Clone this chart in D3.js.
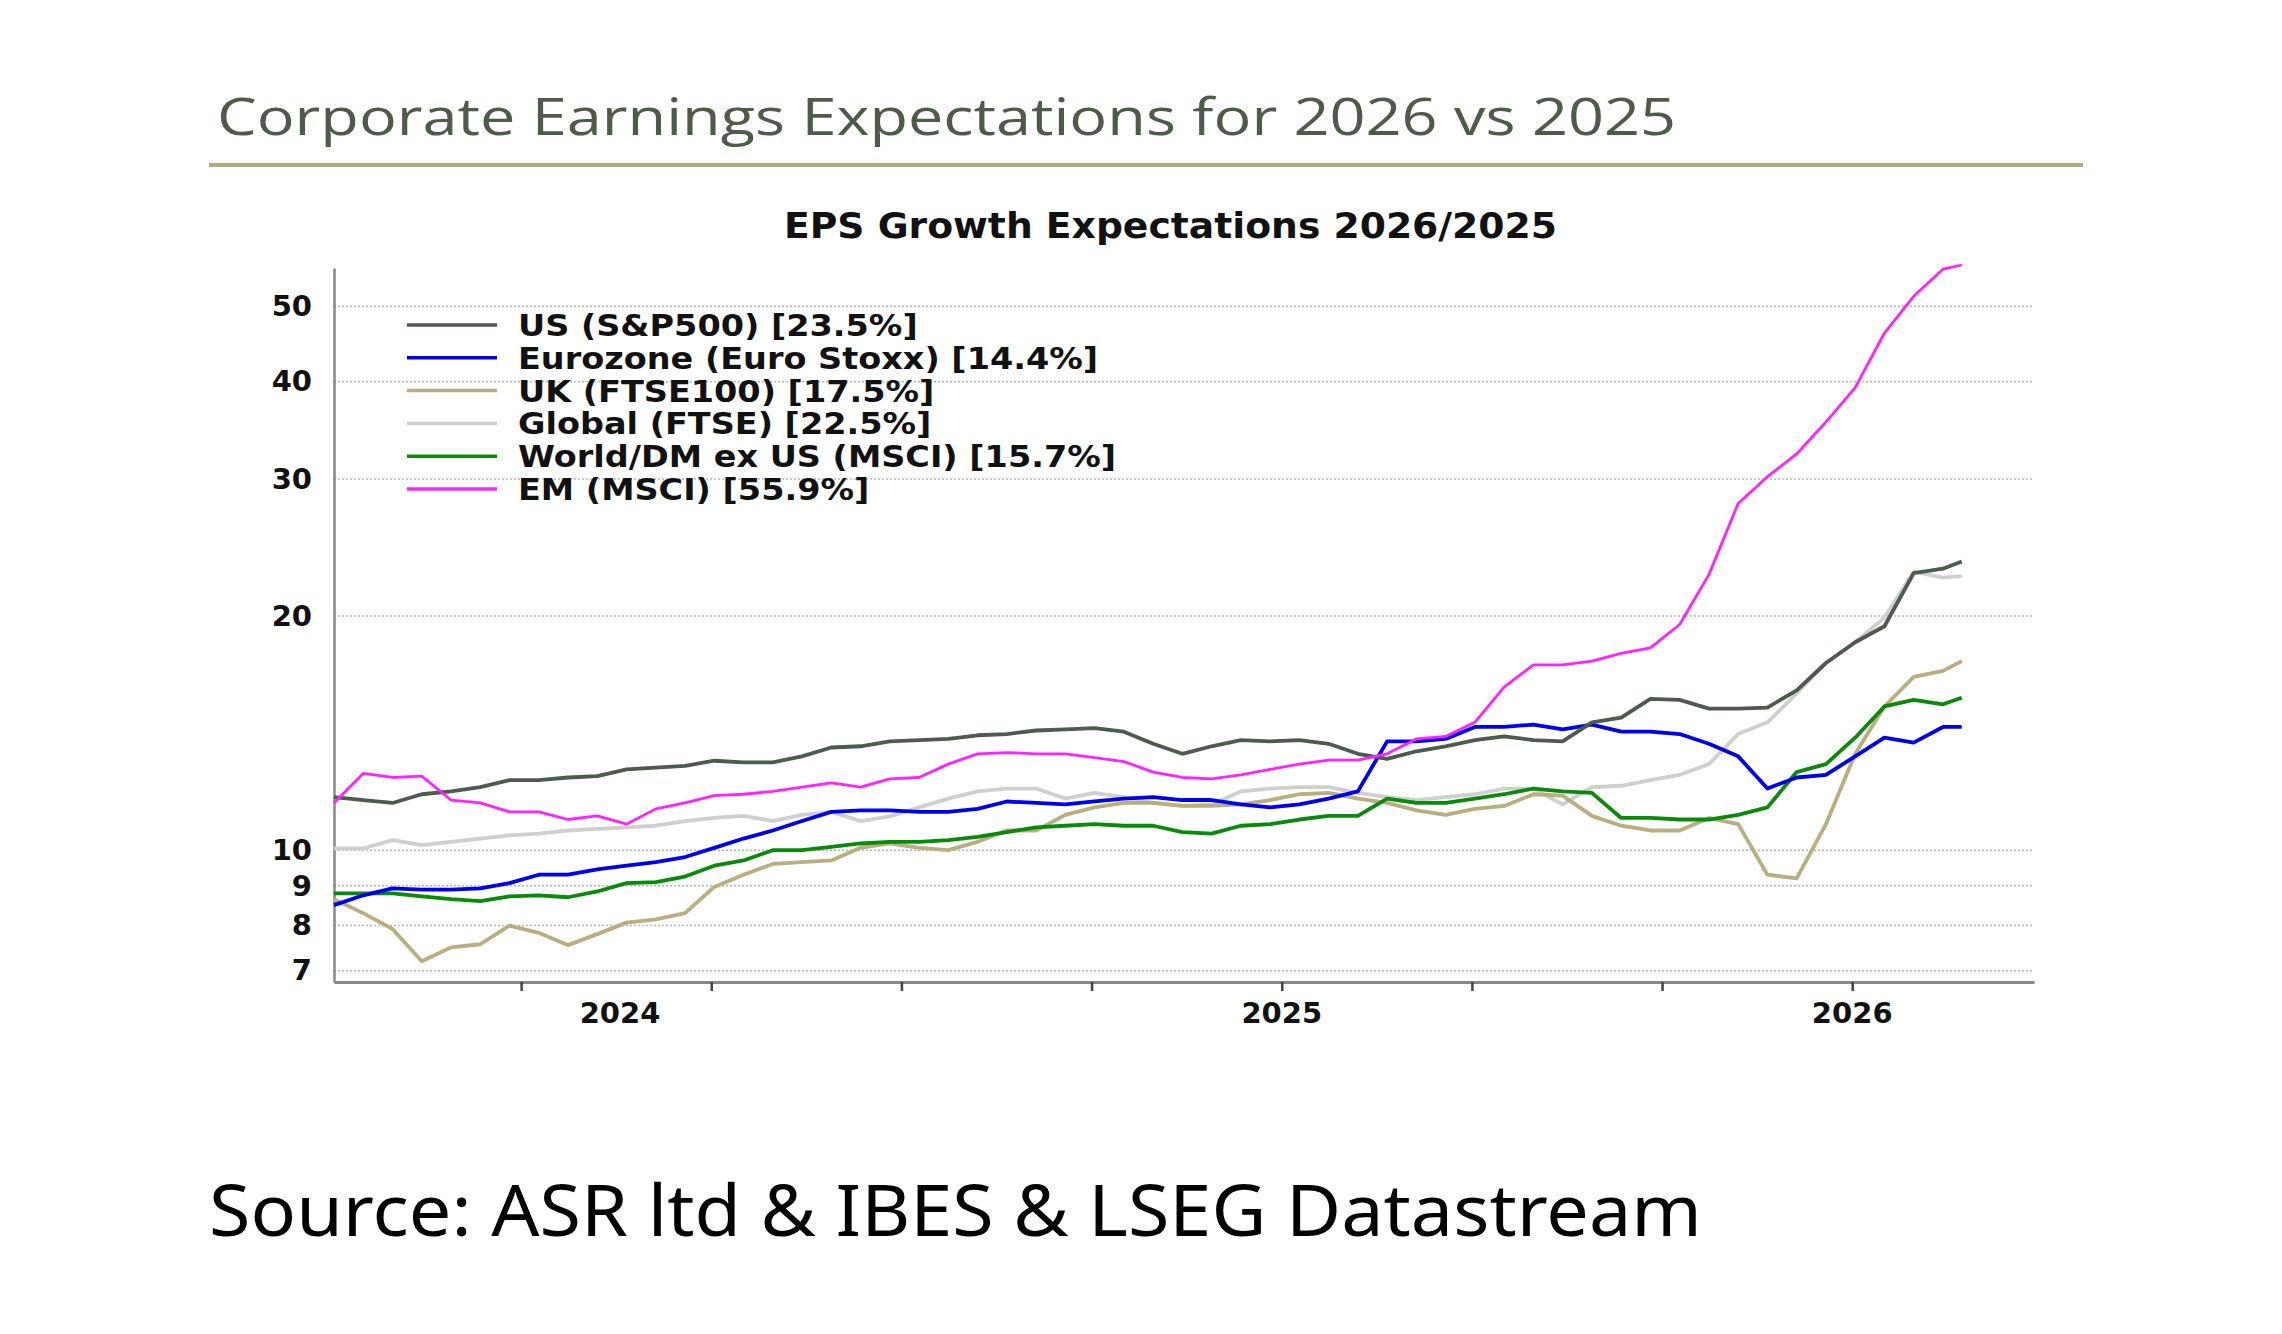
<!DOCTYPE html>
<html><head><meta charset="utf-8">
<script src="https://cdn.jsdelivr.net/npm/d3@7/dist/d3.min.js"></script>
<style>body{margin:0;background:#fff}svg{display:block}</style>
</head><body><svg id="c" width="2282" height="1334"></svg>
<script>
const dates = d3.range(57).map(i => i < 56 ? 2023.754 + i * 0.03846 : 2025.894);
const seriesNames = ["US (S&P500) [23.5%]","Eurozone (Euro Stoxx) [14.4%]","UK (FTSE100) [17.5%]","Global (FTSE) [22.5%]","World/DM ex US (MSCI) [15.7%]","EM (MSCI) [55.9%]"];
const us = [11.7,11.6,11.5,11.8,11.9,12.05,12.3,12.3,12.4,12.45,12.7,12.77,12.83,13.03,12.97,12.97,13.2,13.55,13.6,13.8,13.85,13.9,14.05,14.1,14.25,14.3,14.35,14.2,13.7,13.3,13.6,13.85,13.8,13.85,13.7,13.3,13.1,13.4,13.6,13.85,14.0,13.85,13.8,14.6,14.8,15.65,15.6,15.2,15.2,15.25,16.05,17.4,18.5,19.4,22.7,23.0,23.5];
const eurozone = [8.5,8.75,8.93,8.9,8.9,8.93,9.07,9.3,9.3,9.45,9.55,9.65,9.8,10.07,10.35,10.6,10.9,11.2,11.25,11.25,11.2,11.2,11.3,11.55,11.5,11.45,11.55,11.65,11.7,11.6,11.6,11.45,11.35,11.45,11.65,11.9,13.8,13.8,13.9,14.4,14.4,14.5,14.3,14.5,14.2,14.2,14.1,13.7,13.2,12.0,12.4,12.5,13.2,13.95,13.75,14.4,14.4];
const uk = [8.65,8.3,7.92,7.2,7.5,7.57,8.0,7.83,7.55,7.8,8.07,8.15,8.3,8.97,9.3,9.6,9.65,9.7,10.07,10.2,10.07,10.0,10.25,10.6,10.6,11.1,11.35,11.5,11.5,11.4,11.4,11.45,11.6,11.8,11.85,11.65,11.5,11.25,11.1,11.3,11.4,11.8,11.75,11.07,10.75,10.6,10.6,11.0,10.8,9.3,9.2,10.8,13.3,15.3,16.7,17.0,17.5];
const global = [10.05,10.05,10.3,10.15,10.25,10.35,10.45,10.5,10.6,10.65,10.7,10.75,10.9,11.0,11.07,10.9,11.1,11.2,10.9,11.05,11.35,11.65,11.9,12.0,12.0,11.65,11.85,11.7,11.5,11.4,11.45,11.9,12.0,12.05,12.05,11.85,11.7,11.6,11.7,11.8,12.0,12.0,11.45,12.05,12.1,12.3,12.5,12.9,14.1,14.6,15.9,17.4,18.5,19.9,22.8,22.4,22.5];
const world = [8.8,8.8,8.8,8.72,8.65,8.6,8.72,8.75,8.7,8.85,9.07,9.1,9.25,9.55,9.7,10.0,10.0,10.1,10.2,10.25,10.25,10.3,10.4,10.55,10.7,10.75,10.8,10.75,10.75,10.55,10.5,10.75,10.8,10.95,11.07,11.07,11.65,11.5,11.5,11.65,11.8,12.0,11.9,11.85,11.0,11.0,10.95,10.95,11.1,11.35,12.6,12.9,13.95,15.3,15.6,15.4,15.7];
const em = [11.5,12.55,12.4,12.45,11.6,11.5,11.2,11.2,10.95,11.07,10.8,11.3,11.5,11.75,11.8,11.9,12.05,12.2,12.05,12.35,12.4,12.9,13.3,13.35,13.3,13.3,13.15,13.0,12.6,12.4,12.35,12.5,12.7,12.9,13.05,13.05,13.3,13.9,14.0,14.6,16.2,17.3,17.3,17.5,17.9,18.2,19.5,22.6,27.9,30.2,32.3,35.5,39.3,46.2,51.5,55.8,56.5];
const yTicks = [7,8,9,10,20,30,40,50];
const xTicks = [2024,2024.25,2024.5,2024.75,2025,2025.25,2025.5,2025.75];
const xLabels = [["2024",2024.13],["2025",2025.0],["2026",2025.75]];
const colors = ["#4d5a4d","#0000ee","#b9ae80","#cfcfcf","#0a8a0a","#ff22ff"];
const allSeries = [us, eurozone, uk, global, world, em];
const drawOrder = [3,2,4,1,0,5];

const svg = d3.select("#c");
const L=334,R=2034,T=268,B=982;
const x = d3.scaleLinear().domain([2023.754,2025.989]).range([L,R]);
const y = d3.scaleLog().domain([6.77,56]).range([B,T]);

svg.append("text").attr("x",217).attr("y",135).attr("font-family","Open Sans").attr("font-size",52)
  .attr("fill","#4f5b4a").attr("textLength",1459).attr("lengthAdjust","spacingAndGlyphs")
  .text("Corporate Earnings Expectations for 2026 vs 2025");
svg.append("rect").attr("x",209).attr("y",163).attr("width",1874).attr("height",4).attr("fill","#b5aa7e");
svg.append("text").attr("x",784).attr("y",238).attr("font-family","DejaVu Sans").attr("font-size",35)
  .attr("font-weight",600).attr("fill","#111").attr("textLength",773).attr("lengthAdjust","spacingAndGlyphs")
  .text("EPS Growth Expectations 2026/2025");

svg.append("g").selectAll("line").data(yTicks).join("line")
  .attr("x1",L).attr("x2",R).attr("y1",d=>y(d)).attr("y2",d=>y(d))
  .attr("stroke","#b8b8b8").attr("stroke-width",1.5).attr("stroke-dasharray","2,2");
const ya = svg.append("g").attr("transform",`translate(${L},0)`)
  .call(d3.axisLeft(y).tickValues(yTicks).tickFormat(d3.format("d")).tickSize(0).tickPadding(22));
ya.select(".domain").attr("stroke","#888").attr("stroke-width",2.5);
ya.selectAll("text").attr("font-family","DejaVu Sans").attr("font-size",29).attr("font-weight",600).attr("fill","#111");
const xa = svg.append("g").attr("transform",`translate(0,${B})`)
  .call(d3.axisBottom(x).tickValues(xTicks).tickFormat("").tickSize(9).tickSizeOuter(0));
xa.select(".domain").attr("stroke","#888").attr("stroke-width",3);
xa.selectAll(".tick line").attr("stroke","#444").attr("stroke-width",2.5);
svg.append("g").selectAll("text").data(xLabels).join("text")
  .attr("x",d=>x(d[1])).attr("y",1023).attr("text-anchor","middle")
  .attr("font-family","DejaVu Sans").attr("font-size",29).attr("font-weight",600).attr("fill","#111").text(d=>d[0]);

const line = d3.line().x((d,i)=>x(dates[i])).y(d=>y(d));
svg.append("g").selectAll("path").data(drawOrder).join("path")
  .attr("d",k=>line(allSeries[k])).attr("fill","none").attr("stroke",k=>colors[k])
  .attr("stroke-width",k=>k===5?2.8:3.8).attr("stroke-linejoin","round");

const lg = svg.append("g").selectAll("g").data(seriesNames).join("g")
  .attr("transform",(d,i)=>`translate(407,${325+i*32.8})`);
lg.append("line").attr("x1",0).attr("x2",90).attr("y1",0).attr("y2",0)
  .attr("stroke",(d,i)=>colors[i]).attr("stroke-width",3.5);
lg.append("text").attr("x",111).attr("y",11).attr("font-family","DejaVu Sans").attr("font-size",31)
  .attr("font-weight",600).attr("fill","#111").text(d=>d)
  .each(function(){ const w=this.getComputedTextLength(); d3.select(this).attr("textLength", w*1.08).attr("lengthAdjust","spacingAndGlyphs"); });

svg.append("text").attr("x",209).attr("y",1236).attr("font-family","Noto Sans").attr("font-size",72)
  .attr("fill","#000").attr("textLength",1493).attr("lengthAdjust","spacingAndGlyphs")
  .text("Source: ASR ltd & IBES & LSEG Datastream");
</script></body></html>
